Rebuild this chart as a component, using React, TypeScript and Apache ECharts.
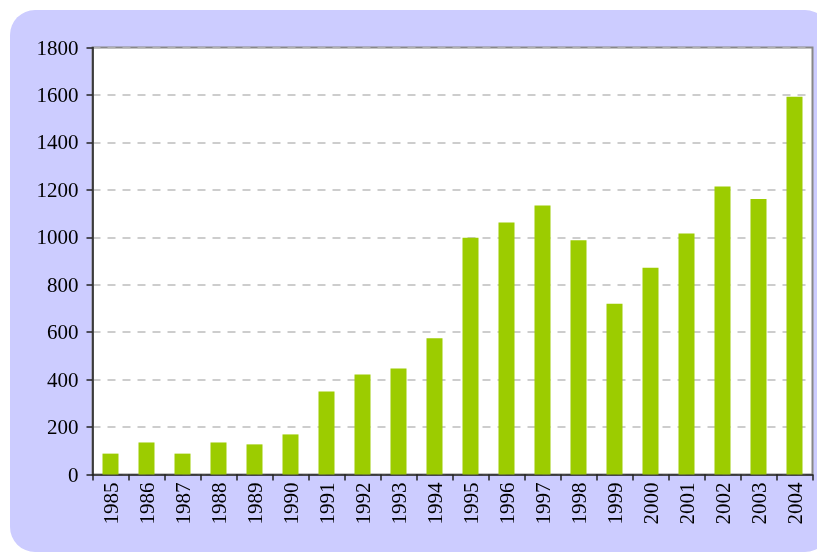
import React, { useEffect, useRef } from "react";
import * as echarts from "echarts";

const years = ["1985","1986","1987","1988","1989","1990","1991","1992","1993","1994","1995","1996","1997","1998","1999","2000","2001","2002","2003","2004"];
const values = [88, 135, 88, 135, 127, 169, 350, 422, 447, 574, 998, 1062, 1134, 987, 720, 872, 1016, 1214, 1161, 1592];
const yTicks = { min: 0, max: 1800, interval: 200 };

export default function App() {
  const ref = useRef<HTMLDivElement>(null);
  useEffect(() => {
    if (!ref.current) return;
    const chart = echarts.init(ref.current, null, { renderer: "svg" });
    chart.setOption({
      animation: false,
      graphic: [
        {
          type: "rect",
          z: -10,
          shape: { x: 10, y: 10, width: 820, height: 542, r: 25 },
          style: { fill: "#ccccff" },
          silent: true,
        },
      ],
      grid: {
        left: 92.5,
        top: 47.5,
        right: 4.5,
        bottom: 78.5,
        show: true,
        backgroundColor: "#ffffff",
        borderColor: "#888888",
        borderWidth: 2,
      },
      xAxis: {
        type: "category",
        data: years,
        boundaryGap: true,
        axisLine: { show: true, lineStyle: { color: "#222222", width: 1.5 } },
        axisTick: { show: true, inside: false, length: 6, lineStyle: { color: "#222222", width: 1.5 } },
        axisLabel: {
          rotate: 90,
          margin: 8,
          interval: 0,
          color: "#000000",
          fontFamily: "Liberation Serif",
          fontSize: 21,
        },
      },
      yAxis: {
        type: "value",
        min: yTicks.min,
        max: yTicks.max,
        interval: yTicks.interval,
        axisLine: { show: true, lineStyle: { color: "#222222", width: 1.5 } },
        axisTick: { show: true, inside: false, length: 6, lineStyle: { color: "#222222", width: 1.5 } },
        axisLabel: {
          margin: 14,
          color: "#000000",
          fontFamily: "Liberation Serif",
          fontSize: 21,
          formatter: (v: number) => String(v),
        },
        splitLine: {
          show: true,
          lineStyle: { color: "#bdbdbd", width: 1.5, type: [8, 7] },
        },
      },
      series: [
        {
          type: "bar",
          data: values,
          barWidth: 16,
          itemStyle: { color: "#9ccc00" },
        },
      ],
    });
    return () => chart.dispose();
  }, []);
  return (
    <div
      ref={ref}
      style={{ position: "fixed", left: 0, top: 0, width: 817, height: 553 }}
    />
  );
}
